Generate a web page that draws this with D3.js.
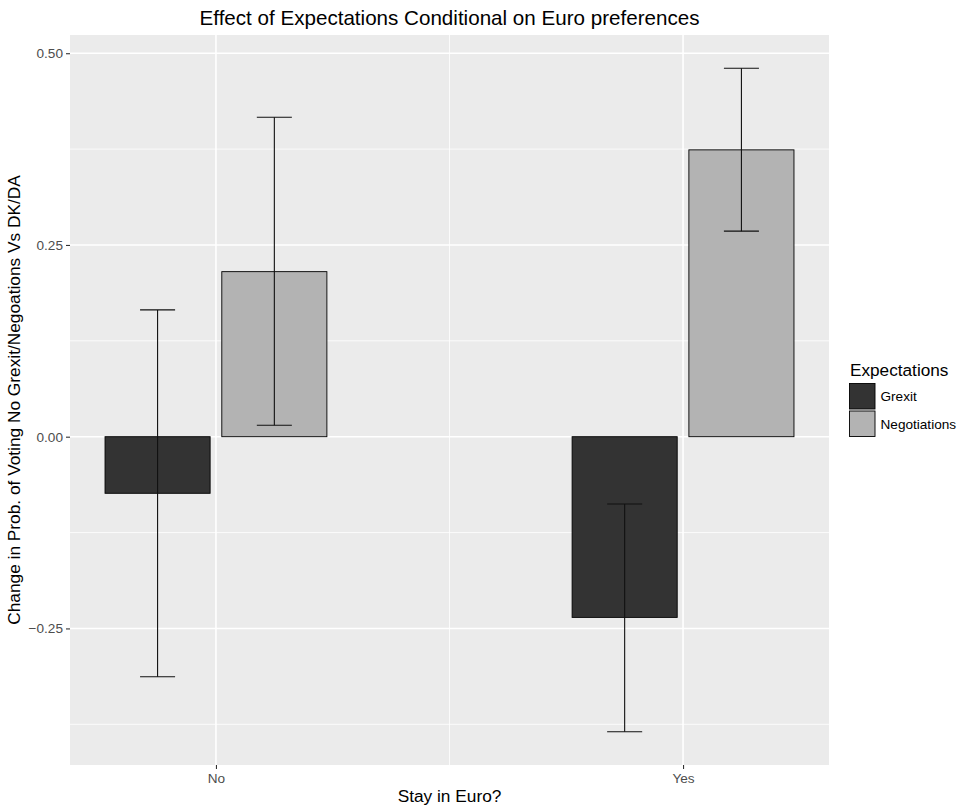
<!DOCTYPE html>
<html>
<head>
<meta charset="utf-8">
<script src="https://cdn.jsdelivr.net/npm/d3@7"></script>
<style>
  html, body { margin: 0; padding: 0; background: #fff; }
  svg { display: block; }
  text { font-family: "Liberation Sans", Arial, Helvetica, sans-serif; }
</style>
</head>
<body>
<svg id="chart" width="960" height="810"></svg>
<script>
// ---- Data ----
const groups = ["No", "Yes"];
const seriesNames = ["Grexit", "Negotiations"];
const grexitEst = [-0.0738, -0.2356];
const grexitLower = [-0.313, -0.3848];
const grexitUpper = [0.1653, -0.0878];
const negotiationsEst = [0.2152, 0.374];
const negotiationsLower = [0.0149, 0.268];
const negotiationsUpper = [0.4166, 0.4805];
const yTicks = [-0.25, 0, 0.25, 0.5];
const yTickLabels = ["\u22120.25", "0.00", "0.25", "0.50"];
const yMinorTicks = [-0.375, -0.125, 0.125, 0.375];
const seriesColors = ["#333333", "#B3B3B3"];

const titleText = "Effect of Expectations Conditional on Euro preferences";
const xTitle = "Stay in Euro?";
const yTitle = "Change in Prob. of Voting No Grexit/Negoations Vs DK/DA";
const legendTitle = "Expectations";

// ---- Build records ----
const records = [];
groups.forEach((g, i) => {
  records.push({group: g, series: "Grexit", est: grexitEst[i], lo: grexitLower[i], hi: grexitUpper[i]});
  records.push({group: g, series: "Negotiations", est: negotiationsEst[i], lo: negotiationsLower[i], hi: negotiationsUpper[i]});
});

// ---- Layout ----
const panel = {left: 70, right: 829, top: 35, bottom: 765};
const svg = d3.select("#chart");

// y scale with ggplot-style 5% expansion
const allVals = records.flatMap(d => [d.est, d.lo, d.hi, 0]);
const dMin = d3.min(allVals), dMax = d3.max(allVals);
const pad = (dMax - dMin) * 0.05;
const y = d3.scaleLinear().domain([dMin - pad, dMax + pad]).range([panel.bottom, panel.top]);

const x = d3.scalePoint().domain(groups).range([panel.left, panel.right]).padding(0.3125);
const step = x.step();
const dodge = d3.scaleBand().domain(seriesNames).range([-0.25 * step, 0.25 * step]);
const barW = 0.225 * step;
const whiskerW = 0.075 * step;
const color = d3.scaleOrdinal().domain(seriesNames).range(seriesColors);

// Panel background
svg.append("rect")
  .attr("x", panel.left).attr("y", panel.top)
  .attr("width", panel.right - panel.left).attr("height", panel.bottom - panel.top)
  .attr("fill", "#EBEBEB");

// Minor grid
svg.append("g").selectAll("line").data(yMinorTicks).join("line")
  .attr("x1", panel.left).attr("x2", panel.right)
  .attr("y1", d => y(d)).attr("y2", d => y(d))
  .attr("stroke", "#fff").attr("stroke-width", 0.8);
svg.append("line")
  .attr("x1", (x(groups[0]) + x(groups[1])) / 2).attr("x2", (x(groups[0]) + x(groups[1])) / 2)
  .attr("y1", panel.top).attr("y2", panel.bottom)
  .attr("stroke", "#fff").attr("stroke-width", 0.8);

// Major grid
svg.append("g").selectAll("line").data(yTicks).join("line")
  .attr("x1", panel.left).attr("x2", panel.right)
  .attr("y1", d => y(d)).attr("y2", d => y(d))
  .attr("stroke", "#fff").attr("stroke-width", 1.6);
svg.append("g").selectAll("line").data(groups).join("line")
  .attr("x1", d => x(d)).attr("x2", d => x(d))
  .attr("y1", panel.top).attr("y2", panel.bottom)
  .attr("stroke", "#fff").attr("stroke-width", 1.6);

// Bars
svg.append("g").selectAll("rect").data(records).join("rect")
  .attr("x", d => x(d.group) + dodge(d.series) + dodge.bandwidth() / 2 - barW / 2)
  .attr("width", barW)
  .attr("y", d => y(Math.max(0, d.est)))
  .attr("height", d => Math.abs(y(d.est) - y(0)))
  .attr("fill", d => color(d.series))
  .attr("stroke", "#000").attr("stroke-width", 0.9);

// Error bars
const eb = svg.append("g").attr("stroke", "#111").attr("stroke-width", 1.1).attr("fill", "none");
records.forEach(d => {
  const cx = x(d.group) + dodge(d.series) + dodge.bandwidth() / 2;
  eb.append("line").attr("x1", cx).attr("x2", cx).attr("y1", y(d.lo)).attr("y2", y(d.hi));
  eb.append("line").attr("x1", cx - whiskerW / 2).attr("x2", cx + whiskerW / 2).attr("y1", y(d.lo)).attr("y2", y(d.lo));
  eb.append("line").attr("x1", cx - whiskerW / 2).attr("x2", cx + whiskerW / 2).attr("y1", y(d.hi)).attr("y2", y(d.hi));
});

// Y axis
const yAxis = d3.axisLeft(y).tickValues(yTicks).tickSize(4).tickPadding(3)
  .tickFormat((d, i) => yTickLabels[i]);
const gy = svg.append("g").attr("transform", `translate(${panel.left},0)`).call(yAxis);
gy.select(".domain").remove();
gy.selectAll(".tick line").attr("stroke", "#333").attr("stroke-width", 1.1);
gy.selectAll(".tick text").attr("fill", "#4D4D4D").attr("font-size", "13.6px")
  .attr("font-family", '"Liberation Sans", Arial, Helvetica, sans-serif');

// X axis
const xAxis = d3.axisBottom(x).tickSize(4).tickPadding(4);
const gx = svg.append("g").attr("transform", `translate(0,${panel.bottom})`).call(xAxis);
gx.select(".domain").remove();
gx.selectAll(".tick line").attr("stroke", "#333").attr("stroke-width", 1.1);
gx.selectAll(".tick text").attr("fill", "#4D4D4D").attr("font-size", "13.6px")
  .attr("font-family", '"Liberation Sans", Arial, Helvetica, sans-serif');

// Titles
svg.append("text").attr("x", (panel.left + panel.right) / 2).attr("y", 25)
  .attr("text-anchor", "middle").attr("font-size", "20.6px").attr("fill", "#000").text(titleText);
svg.append("text").attr("x", (panel.left + panel.right) / 2).attr("y", 802)
  .attr("text-anchor", "middle").attr("font-size", "17.3px").attr("fill", "#000").text(xTitle);
svg.append("text")
  .attr("transform", `translate(19.5,${(panel.top + panel.bottom) / 2}) rotate(-90)`)
  .attr("text-anchor", "middle").attr("font-size", "17.3px").attr("fill", "#000").text(yTitle);

// Legend
const lg = svg.append("g");
lg.append("text").attr("x", 850).attr("y", 376).attr("font-size", "17.2px").attr("fill", "#000").text(legendTitle);
const keySize = 26.5;
seriesNames.forEach((s, i) => {
  const ky = 383 + i * (keySize + 1);
  lg.append("rect").attr("x", 849).attr("y", ky).attr("width", keySize).attr("height", keySize)
    .attr("fill", "#F2F2F2");
  lg.append("rect").attr("x", 849.5).attr("y", ky + 0.5).attr("width", keySize - 1).attr("height", keySize - 1)
    .attr("fill", color(s)).attr("stroke", "#000").attr("stroke-width", 0.9);
  lg.append("text").attr("x", 880.5).attr("y", ky + keySize / 2).attr("dy", "0.35em")
    .attr("font-size", "13.6px").attr("fill", "#000").text(s);
});
</script>
</body>
</html>
